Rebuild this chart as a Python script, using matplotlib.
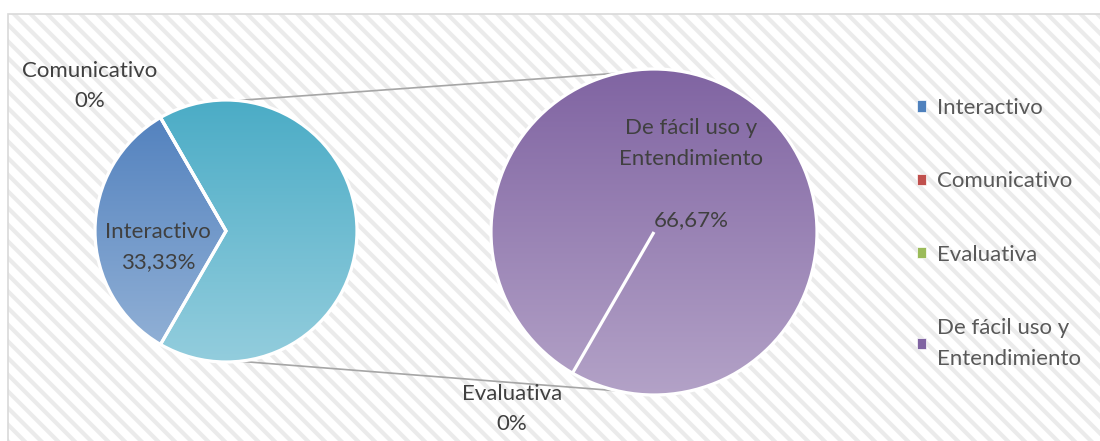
import numpy as np
import matplotlib.pyplot as plt
from matplotlib.patches import Rectangle, Patch
from matplotlib.colors import LinearSegmentedColormap

plt.rcParams['font.family'] = ['Lato', 'DejaVu Sans']
plt.rcParams['hatch.linewidth'] = 3.0

# data
categories = ["Interactivo", "Comunicativo", "Evaluativa", "De fácil uso y\nEntendimiento"]
shares = [33.33, 0.0, 0.0, 66.67]
share_text = ["33,33%", "0%", "0%", "66,67%"]
legend_colors = ["#4f81bd", "#c0504d", "#9bbb59", "#8064a2"]

# first pie: Interactivo, Comunicativo and the rest grouped
left_vals = [shares[0], shares[1], shares[2] + shares[3]]
left_top = ["#4f7fbd", "#4f81bd", "#4bacc6"]
left_bottom = ["#95b3d7", "#95b3d7", "#93cddd"]
# second pie: the grouped items
right_vals = [shares[2], shares[3]]
right_top = ["#8064a2", "#8064a2"]
right_bottom = ["#b3a2c7", "#b3a2c7"]

W, H = 1100, 441
text_col = "#404040"


def grad_fill(ax, wedges, tops, bottoms, cx, cy, r):
    g = np.linspace(0, 1, 256).reshape(-1, 1)
    for w, c0, c1 in zip(wedges, tops, bottoms):
        cmap = LinearSegmentedColormap.from_list("g", [c0, c1])
        im = ax.imshow(g, cmap=cmap, extent=(cx - r, cx + r, cy - r, cy + r),
                       origin="upper", zorder=1, interpolation="bilinear")
        im.set_clip_path(w)
        w.set_facecolor("none")
        w.set_zorder(2)


def main():
    fig = plt.figure(figsize=(W / 100, H / 100), dpi=100)

    # chart area with diagonal stripes
    area = ((8 / W, -0.1), 1.2, (H - 14) / H + 0.1)
    bg = Rectangle(*area, transform=fig.transFigure, facecolor="white",
                   edgecolor="none", zorder=-3)
    stripes = Rectangle(*area, transform=fig.transFigure, facecolor="none",
                        edgecolor="#ebebeb", hatch="\\\\", linewidth=0, zorder=-2)
    border = Rectangle(*area, transform=fig.transFigure, facecolor="none",
                       edgecolor="#d9d9d9", linewidth=1.2, zorder=-1)
    fig.patches.extend([bg, stripes, border])

    ax = fig.add_axes([0, 0, 1, 1])
    ax.patch.set_alpha(0)

    lc, lr = (226, H - 231), 131
    rc, rr = (654, H - 232), 163
    wp = dict(edgecolor="white", linewidth=2.3)

    lw_, _ = ax.pie(left_vals, center=lc, radius=lr, startangle=240,
                    counterclock=False, wedgeprops=wp, frame=True)
    rw_, _ = ax.pie(right_vals, center=rc, radius=rr, startangle=240,
                    counterclock=False, wedgeprops=wp, frame=True)
    grad_fill(ax, lw_, left_top, left_bottom, lc[0], lc[1], lr)
    grad_fill(ax, rw_, right_top, right_bottom, rc[0], rc[1], rr)

    # connector lines between the two pies
    for a_l, a_r in [(85, 103), (-84, -103)]:
        x0 = lc[0] + lr * np.cos(np.radians(a_l))
        y0 = lc[1] + lr * np.sin(np.radians(a_l))
        x1 = rc[0] + rr * np.cos(np.radians(a_r))
        y1 = rc[1] + rr * np.sin(np.radians(a_r))
        ax.plot([x0, x1], [y0, y1], color="#a6a6a6", lw=1.2, zorder=0.5)

    # data labels
    fs = 16
    ls = 1.68
    kw = dict(ha="center", va="center", fontsize=fs, color=text_col, linespacing=ls, zorder=3)
    ax.text(158, H - 247, categories[0] + "\n" + share_text[0], **kw)
    ax.text(90, H - 86, categories[1] + "\n" + share_text[1], **kw)
    ax.text(512, H - 409, categories[2] + "\n" + share_text[2], **kw)
    ax.text(691, H - 174, categories[3] + "\n\n" + share_text[3], **kw)

    handles = [Patch(facecolor=c, edgecolor="white", linewidth=0.5) for c in legend_colors]
    leg = ax.legend(handles, categories, loc="upper left", bbox_to_anchor=(897, H - 78),
                    bbox_transform=ax.transData, frameon=False, fontsize=fs,
                    labelcolor="#595959", handlelength=0.4, handleheight=0.4,
                    handletextpad=0.5, labelspacing=2.4)
    for t in leg.get_texts():
        t.set_linespacing(ls)

    ax.set_xlim(0, W)
    ax.set_ylim(0, H)
    ax.set_aspect("auto")
    ax.axis("off")

    fig.savefig("out.png", dpi=100)


if __name__ == "__main__":
    main()
